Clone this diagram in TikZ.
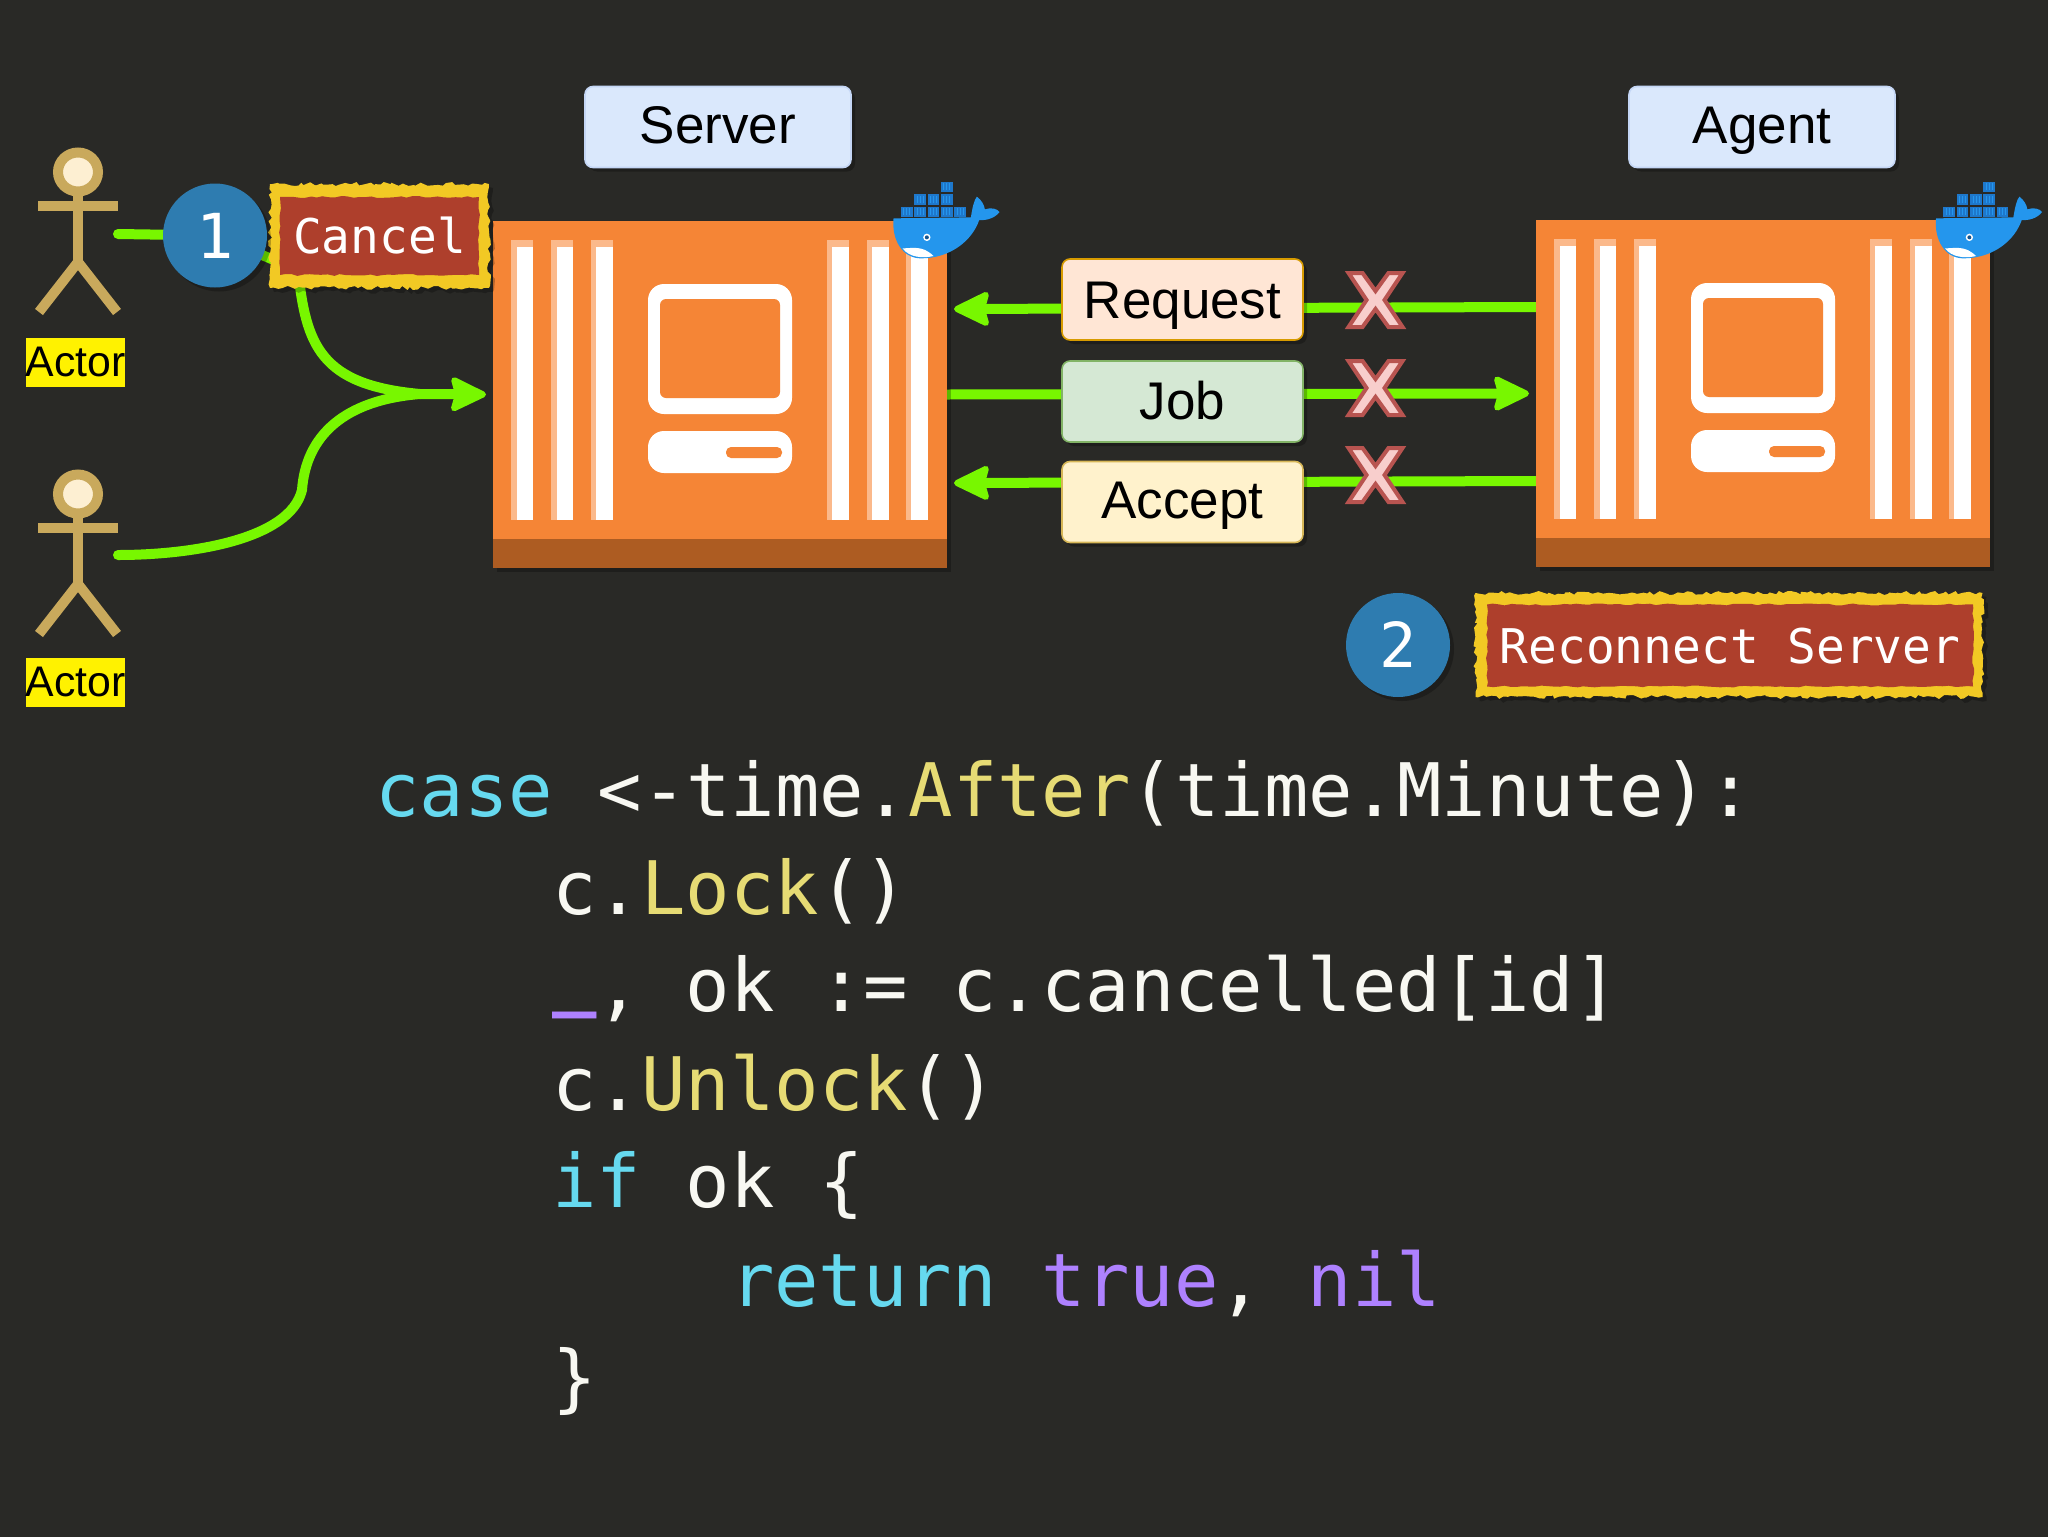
\documentclass[tikz,border=0pt]{standalone}
\usepackage{fontspec}
\setmainfont{Liberation Sans}
\newfontfamily\codefont{DejaVu Sans Mono}
\usetikzlibrary{arrows.meta,decorations.pathmorphing,shadows}
\definecolor{pagebg}{HTML}{292926}
\definecolor{wire}{HTML}{78F700}
\definecolor{tan}{HTML}{C9A95C}
\definecolor{cream}{HTML}{FDEFD2}
\definecolor{orng}{HTML}{F58536}
\definecolor{orngdark}{HTML}{AD5C22}
\definecolor{orngpale}{HTML}{FBB98B}
\definecolor{rim}{HTML}{F2C924}
\definecolor{brick}{HTML}{AE3F2C}
\definecolor{badgeblue}{HTML}{2E7CB0}
\definecolor{dockblue}{HTML}{2496ED}
\definecolor{dockdark}{HTML}{1E78CC}
\definecolor{kwcyan}{HTML}{66D9EF}
\definecolor{fnyellow}{HTML}{E6DB74}
\definecolor{litpurple}{HTML}{AE81FF}
\definecolor{codewhite}{HTML}{F8F8F2}
\definecolor{titlefill}{HTML}{DAE8FC}
\definecolor{titleedge}{HTML}{C4D6F5}
\definecolor{reqfill}{HTML}{FFE6D5}
\definecolor{reqedge}{HTML}{D79B00}
\definecolor{jobfill}{HTML}{D5E8D4}
\definecolor{jobedge}{HTML}{82B366}
\definecolor{accfill}{HTML}{FFF2CC}
\definecolor{accedge}{HTML}{D6B656}
\definecolor{xfill}{HTML}{F8CECC}
\definecolor{xedge}{HTML}{B85450}
\pgfdeclarelayer{page}
\pgfdeclarelayer{wires}
\pgfsetlayers{page,wires,main}
\pgfmathsetseed{7}
\tikzset{
  softshadow/.style={drop shadow={shadow xshift=2pt,shadow yshift=-2pt,opacity=.25,fill=black}},
  flow/.style={draw=wire,line width=5pt,line cap=round,line join=round},
  tipped/.style={-{Stealth[length=20pt,width=19pt,inset=2.5pt,round,line width=3pt]}},
  plainbox/.style={inner sep=0pt,outer sep=0pt},
  container/.style={plainbox,fill=orng,minimum width=227pt,minimum height=173.5pt,softshadow},
  softrough/.style={rounded corners=4pt},
  titlebox/.style={plainbox,minimum width=133pt,minimum height=40.5pt,fill=titlefill,draw=titleedge,line width=.8pt,
    softrough,softshadow,font=\fontsize{26.5pt}{30pt}\selectfont,text=black,text height=16pt,text depth=0pt},
  msgbox/.style={plainbox,minimum width=120.5pt,minimum height=40.5pt,line width=.8pt,
    softrough,softshadow,font=\fontsize{26.5pt}{30pt}\selectfont,text=black},
  rimbox/.style={plainbox,fill=rim,decorate,decoration={random steps,segment length=2pt,amplitude=1pt},softshadow},
  notebox/.style={plainbox,fill=brick,decorate,decoration={random steps,segment length=3pt,amplitude=.5pt},
    text=white,font=\codefont\fontsize{23.9pt}{28pt}\selectfont},
  badge/.style={plainbox,circle,fill=badgeblue,minimum size=52pt,softshadow,text=white,
    font=\codefont\fontsize{31pt}{36pt}\selectfont,text height=22.6pt,text depth=0pt},
  actorlabel/.style={plainbox,fill=yellow,minimum width=49.5pt,minimum height=24.5pt,text=black,
    font=\fontsize{21.4pt}{24pt}\selectfont},
  codeline/.style={plainbox,anchor=base west,text=codewhite,font=\codefont\fontsize{36.9pt}{40pt}\selectfont},
  crossmark/.style={fill=xfill,draw=xedge,line width=2pt,line join=miter},
  actorstroke/.style={draw=tan,line width=5pt}
}
\newcommand{\kw}[1]{\textcolor{kwcyan}{#1}}
\newcommand{\fn}[1]{\textcolor{fnyellow}{#1}}
\newcommand{\lit}[1]{\textcolor{litpurple}{#1}}
\newcommand{\actorart}{%
  \draw[actorstroke] (78,192) -- (78,262);
  \draw[actorstroke] (38,206) -- (118,206);
  \draw[actorstroke] (39,312) -- (78,262) -- (117,312);
  \draw[draw=tan,fill=cream,line width=5pt] (78,172) ellipse [x radius=20,y radius=19.5];
}
\newcommand{\containerart}{%
  \fill[orngdark] (493,539) rectangle (947,568);
  \foreach \a/\b in {511/517,551/557,591/596,827/832,867/872,906/911}{
    \fill[orngpale] (\a,240) rectangle (\a+21.5,520);
    \fill[white] (\b,247) rectangle (\a+21.5,520);
  }
  \fill[white,rounded corners=8pt] (648,284) rectangle (792,414);
  \fill[orng,rounded corners=3pt] (660,299) rectangle (780,398);
  \fill[white,rounded corners=8pt] (648,431) rectangle (792,473);
  \fill[orng,rounded corners=2.5pt] (726,447) rectangle (782,458);
}
\newcommand{\dockerart}{%
  \foreach \xa/\ya in {130/140,170/140,210/140,250/140,290/140,170/103,210/103,250/103,250/65}{
    \fill[dockdark] (\xa,\ya) rectangle (\xa+35,\ya+31);
    \draw[dockblue,line width=.4pt] (\xa+9,\ya+5) -- (\xa+9,\ya+26) (\xa+18,\ya+5) -- (\xa+18,\ya+26) (\xa+27,\ya+5) -- (\xa+27,\ya+26);
  }
  \fill[dockblue] (108,175) -- (340,172) .. controls (345,140) and (350,120) .. (358,110)
    .. controls (372,120) and (380,135) .. (382,148) .. controls (400,142) and (418,145) .. (426,156)
    .. controls (412,175) and (385,182) .. (365,180) .. controls (345,240) and (280,295) .. (190,295)
    .. controls (135,295) and (102,240) .. (108,175) -- cycle;
  \fill[white] (135,265) .. controls (165,265) and (195,255) .. (228,288) .. controls (195,296) and (155,292) .. (135,265) -- cycle;
  \fill[white] (208,232) circle (11);
  \fill[dockdark!70!black] (208,232) circle (6);
}
\newcommand{\xart}{%
  \path[crossmark] (-27,-27) -- (-13,-27) -- (0,-9) -- (13,-27) -- (27,-27) -- (9,0) -- (27,27) -- (13,27) -- (0,9) -- (-13,27) -- (-27,27) -- (-9,0) -- cycle;
}
\begin{document}
\begin{tikzpicture}[x=.5pt,y=-.5pt]
\frenchspacing
\useasboundingbox (0,0) rectangle (2048,1536);
\begin{pgfonlayer}{page}
  \fill[pagebg] (-10,-10) rectangle (2058,1546);
\end{pgfonlayer}

% actors
\actorart
\begin{scope}[shift={(0,322)}]\actorart\end{scope}
\node[actorlabel] (actorA) at (75.5,362) {Actor};
\node[actorlabel] (actorB) at (75.5,682) {Actor};
\coordinate (handA) at (118,234);
\coordinate (handB) at (118,555);

% containers
\node[container] (server) at (720,394.5) {};
\node[container] (agent) at (1763,393.5) {};
\containerart
\begin{scope}[shift={(1043,-1)}]\containerart\end{scope}
\begin{scope}[shift={(857.5,160)},x=.1667pt,y=-.1667pt]\dockerart\end{scope}
\begin{scope}[shift={(1900,160)},x=.1667pt,y=-.1667pt]\dockerart\end{scope}

% titles
\node[titlebox] (servertitle) at (718,127) {Server};
\node[titlebox] (agenttitle) at (1762,127) {Agent};

% notes and badges
\node[rimbox,minimum width=109.5pt,minimum height=52pt] (cancelrim) at (379.5,236) {};
\node[notebox,minimum width=99.5pt,minimum height=39pt,text height=17pt,text depth=0pt] (cancel) at (379.5,236) {Cancel};
\node[badge] (badgeone) at (215,235.5) {1};
\node[rimbox,minimum width=253.5pt,minimum height=52pt] (reconnectrim) at (1729,645) {};
\node[notebox,minimum width=243pt,minimum height=41pt,text height=18pt,text depth=0pt] (reconnect) at (1730,645.5) {Reconnect Server};
\node[badge] (badgetwo) at (1398,645) {2};

% messages
\node[msgbox,fill=reqfill,draw=reqedge,text height=18.5pt,text depth=0pt] (request) at (1182.5,299.5) {Request};
\node[msgbox,fill=jobfill,draw=jobedge,text height=17.5pt,text depth=0pt] (job) at (1182.5,401.5) {Job};
\node[msgbox,fill=accfill,draw=accedge,text height=16pt,text depth=0pt] (accept) at (1182.5,502) {Accept};

% crosses
\begin{scope}[shift={(1375.5,300)}]\xart\end{scope}
\begin{scope}[shift={(1375.5,388)}]\xart\end{scope}
\begin{scope}[shift={(1375.5,475)}]\xart\end{scope}

% connectors
\coordinate (srvtop) at (954,309);
\coordinate (agttop) at (1536,307);
\coordinate (srvbot) at (954,483);
\coordinate (agtbot) at (1536,481);
\coordinate (junction) at (420,394);
\coordinate (turn) at (298,270);
\begin{pgfonlayer}{wires}
  \draw[flow,tipped] (agttop) -- (srvtop);
  \draw[flow,tipped,line cap=butt] (server.east) -- ([xshift=-3.5pt]agent.west);
  \draw[flow,tipped] (agtbot) -- (srvbot);
  \draw[flow] (handA) -- (badgeone.center) -- (turn);
  \draw[flow] (turn) .. controls (306,345) and (320,385) .. (junction);
  \draw[flow] (handB) .. controls +(72,0) and (290,540) .. (302,490)
     .. controls (306,435) and (345,400) .. (junction);
  \draw[flow,tipped,shorten >=3.5pt,line cap=butt] (junction) -- (server.west);
\end{pgfonlayer}

% code
\node[codeline] (code1) at (375.5,816) {\kw{case} <-time.\fn{After}(time.Minute):};
\node[codeline] (code2) at (552.5,914) {c.\fn{Lock}()};
\node[codeline] (code3) at (552.5,1011) {\lit{\raisebox{5pt}{\bfseries\_}}, ok := c.cancelled[id]};
\node[codeline] (code4) at (552.5,1110) {c.\fn{Unlock}()};
\node[codeline] (code5) at (552.5,1207) {\kw{if} ok \{};
\node[codeline] (code6) at (730,1306) {\kw{return} \lit{true}, \lit{nil}};
\node[codeline] (code7) at (552.5,1403) {\}};
\end{tikzpicture}
\end{document}
